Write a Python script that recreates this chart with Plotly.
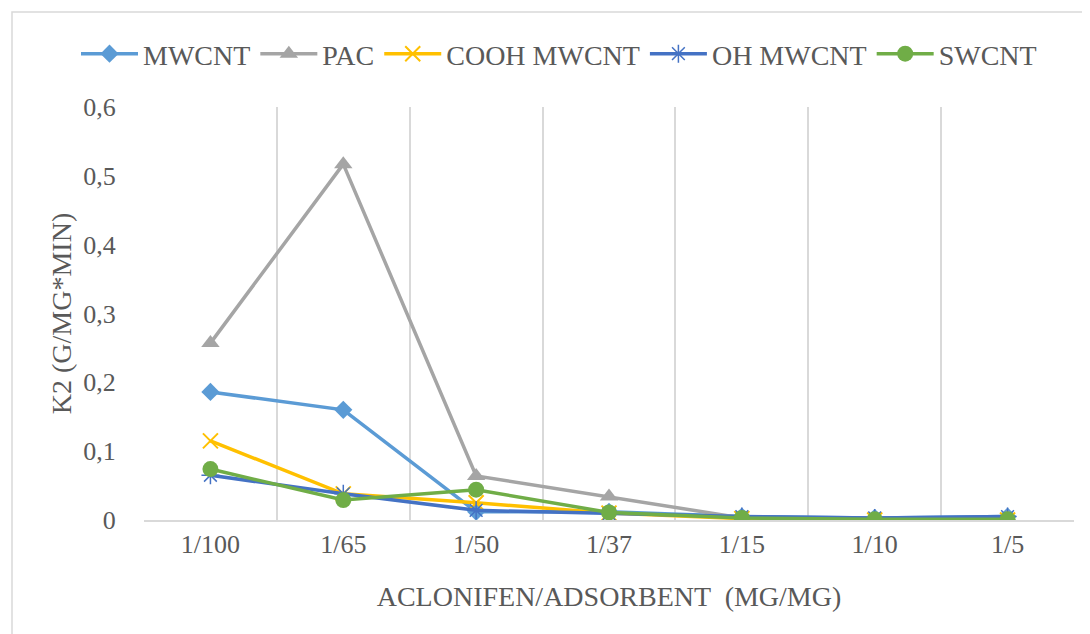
import plotly.graph_objects as go

categories = ["1/100", "1/65", "1/50", "1/37", "1/15", "1/10", "1/5"]
mwcnt = [0.186, 0.160, 0.012, 0.012, 0.005, 0.003, 0.005]
pac = [0.257, 0.517, 0.064, 0.034, 0.003, 0.002, 0.004]
cooh_mwcnt = [0.115, 0.038, 0.025, 0.010, 0.002, 0.000, 0.000]
oh_mwcnt = [0.065, 0.038, 0.014, 0.009, 0.005, 0.003, 0.005]
swcnt = [0.074, 0.029, 0.044, 0.011, 0.003, 0.001, 0.001]

series = [
    ("MWCNT", mwcnt, "#5B9BD5", "diamond", 14, None),
    ("PAC", pac, "#A5A5A5", "triangle-up", 16, None),
    ("COOH MWCNT", cooh_mwcnt, "#FFC000", "x-thin-open", 15, 2),
    ("OH MWCNT", oh_mwcnt, "#4472C4", "asterisk-open", 15, 1.5),
    ("SWCNT", swcnt, "#70AD47", "circle", 16, None),
]

fig = go.Figure()
for name, vals, color, sym, size, lw in series:
    marker = dict(symbol=sym, size=size, color=color)
    if lw:
        marker["line"] = dict(color=color, width=lw)
    fig.add_trace(go.Scatter(
        x=categories, y=vals, name=name, mode="lines+markers",
        line=dict(color=color, width=3.5), marker=marker,
    ))

font_family = "Liberation Serif"
text_color = "#595959"
W, H = 1082, 626  # page body adds an 8px offset
PW, PH = 930, 413
fig.update_layout(
    width=W, height=H,
    margin=dict(l=136, r=W - 136 - PW, t=99, b=H - 99 - PH, autoexpand=False),
    paper_bgcolor="white", plot_bgcolor="white",
    separators=",.",
    font=dict(family=font_family, color=text_color, size=26),
    showlegend=True,
    legend=dict(orientation="h", x=(76 - 144) / PW, xanchor="left",
                y=(520 - 54) / PH, yanchor="middle",
                font=dict(family=font_family, size=28, color=text_color),
                traceorder="normal", itemwidth=57),
    xaxis=dict(
        type="category", range=[-0.5, 6.5], tickson="boundaries",
        showgrid=True, gridcolor="#D9D9D9", gridwidth=1.5,
        showline=True, linecolor="#D9D9D9", linewidth=1.5,
        ticks="outside", ticklen=10, tickcolor="rgba(0,0,0,0)",
        tickfont=dict(family=font_family, size=26, color=text_color),
        title=dict(text="ACLONIFEN/ADSORBENT  (MG/MG)",
                   font=dict(family=font_family, size=28, color=text_color), standoff=28),
        zeroline=False,
    ),
    yaxis=dict(
        range=[0, 0.6], dtick=0.1, showgrid=False, zeroline=False,
        showline=False, ticks="outside", ticklen=22, tickcolor="rgba(0,0,0,0)",
        tickfont=dict(family=font_family, size=26, color=text_color),
        title=dict(text="K2 (G/MG*MIN)",
                   font=dict(family=font_family, size=28, color=text_color), standoff=3),
    ),
    shapes=[dict(type="rect", xref="paper", yref="paper",
                 x0=(4 - 136) / PW, x1=1.05, y0=-0.3, y1=1 + (99 - 4) / PH,
                 line=dict(color="#D9D9D9", width=1.5), fillcolor="rgba(0,0,0,0)",
                 layer="below")],
)

fig.write_html("out.html")
